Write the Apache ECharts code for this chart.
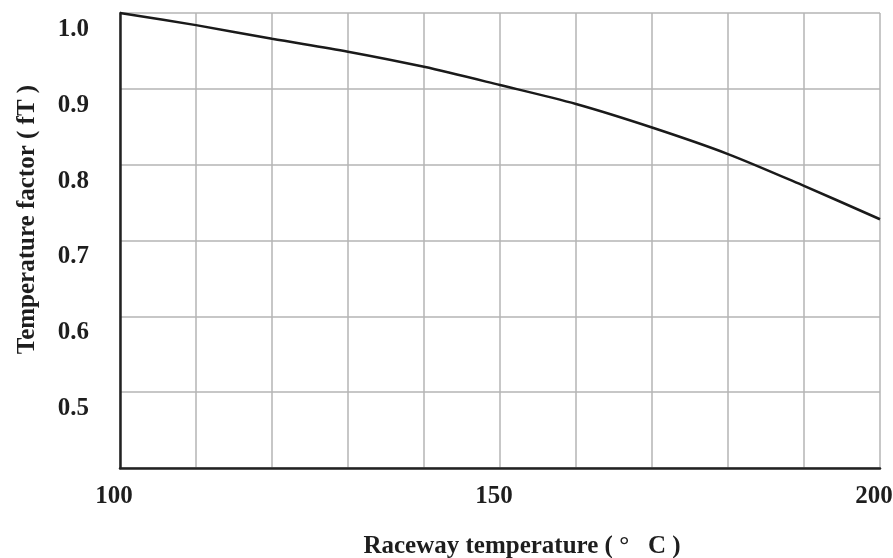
<!DOCTYPE html>
<html>
<head>
<meta charset="utf-8">
<script src="https://cdn.jsdelivr.net/npm/echarts@6/dist/echarts.min.js"></script>
<style>
  html, body { margin: 0; padding: 0; background: #fff; overflow: hidden; }
  #chart { width: 893px; height: 558px; }
</style>
</head>
<body>
<div id="chart"></div>
<script>
// Raceway temperature (°C) and the matching temperature factor fT
const temperatures = [100, 110, 120, 130, 140, 150, 160, 170, 180, 190, 200];
const factors = [1.000, 0.984, 0.966, 0.949, 0.929, 0.905, 0.880, 0.849, 0.814, 0.772, 0.728];

// Labelled ticks on each axis
const xTickLabels = [100, 150, 200];
const yTickLabels = [0.5, 0.6, 0.7, 0.8, 0.9, 1.0];

const serif = '"Liberation Serif", "Times New Roman", serif';
const gridGrey = '#b4b4b4';
const ink = '#1e1e1e';

const chart = echarts.init(document.getElementById('chart'), null, { renderer: 'canvas' });

chart.setOption({
  backgroundColor: '#ffffff',
  animation: false,
  grid: {
    left: 120, right: 13, top: 13, bottom: 90,
    containLabel: false,
    outerBoundsMode: 'none'
  },
  xAxis: {
    type: 'value',
    min: 100,
    max: 200,
    interval: 10,
    name: 'Raceway temperature ( °   C )',
    nameLocation: 'middle',
    nameGap: 66,
    nameTextStyle: {
      fontFamily: serif, fontWeight: 'bold', fontSize: 25, color: ink,
      padding: [0, 0, 0, 44]
    },
    axisLine: { show: true, lineStyle: { color: '#222', width: 2.5 } },
    axisTick: { show: false },
    splitLine: { show: true, lineStyle: { color: gridGrey, width: 1.5 } },
    axisLabel: {
      fontFamily: serif, fontWeight: 'bold', fontSize: 25, color: ink,
      margin: 16, lineHeight: 25,
      padding: [0, 12, 0, 0],
      showMinLabel: true, showMaxLabel: true,
      hideOverlap: false,
      formatter: v => xTickLabels.includes(Math.round(v)) ? String(Math.round(v)) : ''
    }
  },
  yAxis: {
    type: 'value',
    min: 0.4,
    max: 1.0,
    interval: 0.1,
    name: 'Temperature factor ( fT )',
    nameLocation: 'middle',
    nameGap: 80,
    nameRotate: 90,
    nameTextStyle: {
      fontFamily: serif, fontWeight: 'bold', fontSize: 25, color: ink,
      padding: [0, 0, 0, 42]
    },
    axisLine: { show: true, lineStyle: { color: '#222', width: 2.5 } },
    axisTick: { show: false },
    splitLine: { show: true, lineStyle: { color: gridGrey, width: 1.5 } },
    axisLabel: {
      fontFamily: serif, fontWeight: 'bold', fontSize: 25, color: ink,
      margin: 31, verticalAlign: 'top', lineHeight: 25,
      padding: [4, 0, 0, 0],
      showMinLabel: true, showMaxLabel: true,
      formatter: v => {
        const r = Math.round(v * 10) / 10;
        return yTickLabels.some(t => Math.abs(t - r) < 1e-6) ? r.toFixed(1) : '';
      }
    }
  },
  series: [{
    type: 'line',
    data: temperatures.map((t, i) => [t, factors[i]]),
    smooth: 0.3,
    symbol: 'none',
    lineStyle: { color: '#1a1a1a', width: 2.5 },
    clip: false
  }]
});
</script>
</body>
</html>
